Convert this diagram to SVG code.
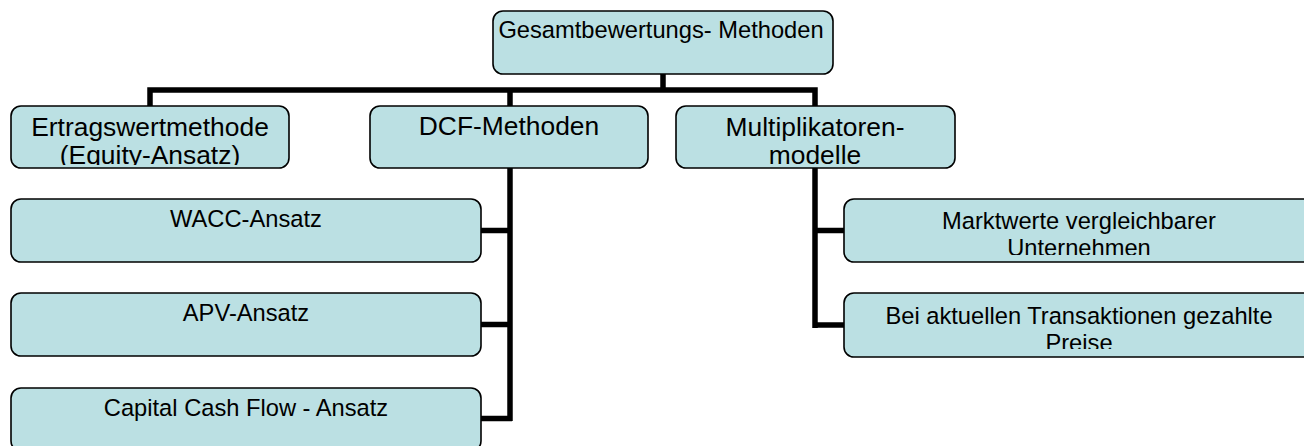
<svg xmlns="http://www.w3.org/2000/svg" width="1304" height="446" viewBox="0 0 1304 446">
  <style>
    .box { fill: #BBE0E3; stroke: #000; stroke-width: 1.6; }
    .conn { fill: none; stroke: #000; stroke-width: 5.5; stroke-linejoin: miter; }
    text { font-family: "Liberation Sans", Arial, sans-serif; fill: #000; text-anchor: middle; }
    .t0 { font-size: 23.7px; }
    .t1 { font-size: 26.4px; }
    .t2 { font-size: 23.7px; }
  </style>
  <defs>
    <clipPath id="c-ertrag"><rect x="11" y="106" width="278" height="59"/></clipPath>
    <clipPath id="c-multi"><rect x="676" y="106" width="279" height="59"/></clipPath>
    <clipPath id="c-markt"><rect x="844" y="199" width="470" height="56"/></clipPath>
    <clipPath id="c-bei"><rect x="844" y="293" width="470" height="56"/></clipPath>
  </defs>
  <rect width="1304" height="446" fill="#fff"/>

  <g id="connectors">
    <path class="conn" d="M663,74 V90"/>
    <path class="conn" d="M150,106 V90 H815 V106"/>
    <path class="conn" d="M510,90 V106"/>
    <path class="conn" d="M510,168 V421"/>
    <path class="conn" d="M481,230.5 H512"/>
    <path class="conn" d="M481,324.5 H512"/>
    <path class="conn" d="M481,418.5 H512"/>
    <path class="conn" d="M815,168 V328"/>
    <path class="conn" d="M813,230.5 H844"/>
    <path class="conn" d="M813,325 H844"/>
  </g>

  <g id="node-gesamt">
    <rect class="box" x="493" y="11" width="340" height="63" rx="10"/>
    <text class="t0" x="661" y="37.5">Gesamtbewertungs- Methoden</text>
  </g>

  <g id="node-ertrag">
    <rect class="box" x="11" y="106" width="278" height="62" rx="10"/>
    <g clip-path="url(#c-ertrag)">
      <text class="t1" x="150" y="136">Ertragswertmethode</text>
      <text class="t1" x="150" y="164">(Equity-Ansatz)</text>
    </g>
  </g>

  <g id="node-dcf">
    <rect class="box" x="370" y="106" width="278" height="62" rx="10"/>
    <text class="t1" x="509" y="135">DCF-Methoden</text>
  </g>

  <g id="node-multi">
    <rect class="box" x="676" y="106" width="279" height="62" rx="10"/>
    <g clip-path="url(#c-multi)">
      <text class="t1" x="815" y="135.5">Multiplikatoren-</text>
      <text class="t1" x="815" y="163.5">modelle</text>
    </g>
  </g>

  <g id="node-wacc">
    <rect class="box" x="11" y="199" width="470" height="63" rx="10"/>
    <text class="t2" x="246" y="227">WACC-Ansatz</text>
  </g>

  <g id="node-apv">
    <rect class="box" x="11" y="293" width="470" height="63" rx="10"/>
    <text class="t2" x="246" y="321">APV-Ansatz</text>
  </g>

  <g id="node-ccf">
    <rect class="box" x="11" y="388" width="470" height="63" rx="10"/>
    <text class="t2" x="246" y="415.5">Capital Cash Flow - Ansatz</text>
  </g>

  <g id="node-markt">
    <rect class="box" x="844" y="199" width="470" height="63" rx="10"/>
    <g clip-path="url(#c-markt)">
      <text class="t2" x="1079" y="229">Marktwerte vergleichbarer</text>
      <text class="t2" x="1079" y="256">Unternehmen</text>
    </g>
  </g>

  <g id="node-bei">
    <rect class="box" x="844" y="293" width="470" height="64" rx="10"/>
    <g clip-path="url(#c-bei)">
      <text class="t2" x="1079" y="323.5">Bei aktuellen Transaktionen gezahlte</text>
      <text class="t2" x="1079" y="350.5">Preise</text>
    </g>
  </g>
</svg>
